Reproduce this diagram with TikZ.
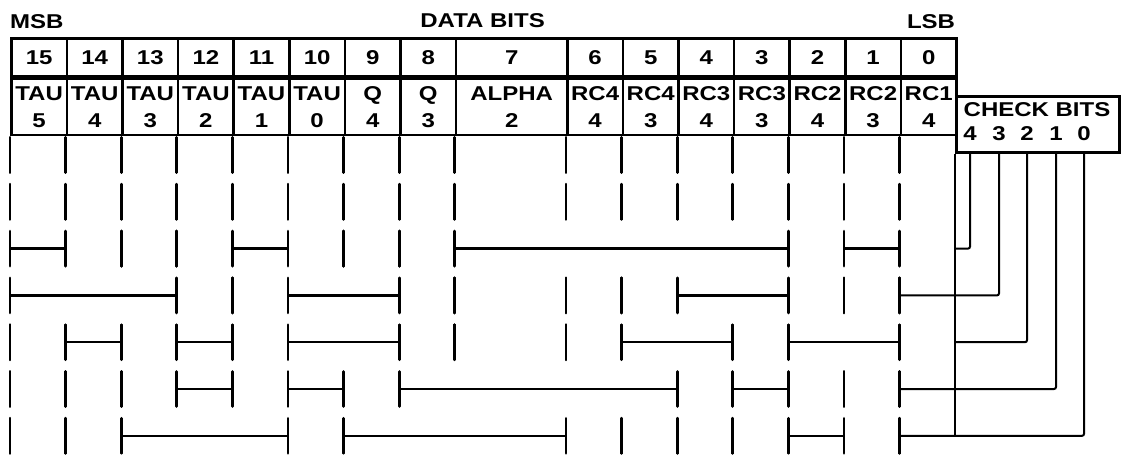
\documentclass[tikz,border=0pt]{standalone}
\usepackage{fontspec}
\setmainfont{Liberation Sans}[FakeStretch=1.2]

% one field of a row: ticks at both ends and a bar between them
\newcommand{\field}[3]{%
    \draw[tick] ([yshift=17.5pt]t#1-#2) -- ([yshift=-17.5pt]t#1-#2);
    \draw[tick] ([yshift=17.5pt]t#1-#3) -- ([yshift=-17.5pt]t#1-#3);
    \draw[bar] (t#1-#2) -- (t#1-#3);
}

\begin{document}
\begin{tikzpicture}[x=1pt, y=-1pt,
        tick/.style = {line width=2.8pt, line cap=round},
        bar/.style = {line width=2.4pt},
        wire/.style = {line width=2pt, rounded corners=2pt}]
            \useasboundingbox (0,0) rectangle (1121,456);
            {
                \tikzset{every node/.style = {inner sep=0pt, font=\fontsize{20}{27}\selectfont\bfseries}}
                \tikzset{cell/.style = {draw, line width=2.6pt, anchor=north west, align=center}}

                \node[anchor=west] (msb) at (10, 22) {MSB};
                \node (data) at (482.6, 21) {DATA BITS};
                \node[anchor=east] (lsb) at (955.2, 22) {LSB};

                \foreach \b/\u/\w/\nm/\sub in {15/0/1/TAU/5, 14/1/1/TAU/4, 13/2/1/TAU/3, 12/3/1/TAU/2,
                        11/4/1/TAU/1, 10/5/1/TAU/0, 9/6/1/Q/4, 8/7/1/Q/3, 7/8/2/ALPHA/2, 6/10/1/RC4/4,
                        5/11/1/RC4/3, 4/12/1/RC3/4, 3/13/1/RC3/3, 2/14/1/RC2/4, 1/15/1/RC2/3, 0/16/1/RC1/4}
                {
                    \node[cell, minimum width=\w*55.6pt, minimum height=38pt] (n\b) at ({10+\u*55.6}, 37) {\b};
                    \node[cell, minimum width=\w*55.6pt, minimum height=56pt] (l\b) at (n\b.south west) {\nm\\\sub};
                    \foreach \r in {1,...,7}
                        \coordinate (t\r-\b) at ({10+\u*55.6}, {155+(\r-1)*46.8});
                }

                \node[cell, minimum width=162.8pt, minimum height=56pt] (chk) at (955.2, 95) {};
                \node (chklbl) at (1037, 110) {CHECK BITS};
                \foreach \c/\x in {4/970, 3/999, 2/1027, 1/1056, 0/1084}
                    \node (c\c) at (\x, 134) {\c};
            }

            % rows of fields
            \foreach \r in {1,2}
                \foreach \b in {15,...,0}
                    {\field{\r}{\b}{\b}}
            \foreach \hi/\lo in {15/14, 13/13, 12/12, 11/10, 9/9, 8/8, 7/2, 1/0} {\field{3}{\hi}{\lo}}
            \foreach \hi/\lo in {15/12, 11/11, 10/8, 7/7, 6/6, 5/5, 4/2, 1/1, 0/0} {\field{4}{\hi}{\lo}}
            \foreach \hi/\lo in {15/15, 14/13, 12/11, 10/8, 7/7, 6/6, 5/3, 2/0} {\field{5}{\hi}{\lo}}
            \foreach \hi/\lo in {15/15, 14/14, 13/13, 12/11, 10/9, 8/4, 3/2, 1/1, 0/0} {\field{6}{\hi}{\lo}}
            \foreach \hi/\lo in {15/15, 14/14, 13/10, 9/6, 5/5, 4/4, 3/3, 2/1, 0/0} {\field{7}{\hi}{\lo}}

            % check bit wires
            \draw[wire] (chk.south west) -- (chk.west |- t7-0);
            \draw[wire] (c4 |- chk.south) |- (chk.west |- t3-0);
            \draw[wire] (c3 |- chk.south) |- (t4-0);
            \draw[wire] (c2 |- chk.south) |- (chk.west |- t5-0);
            \draw[wire] (c1 |- chk.south) |- (t6-0);
            \draw[wire] (c0 |- chk.south) |- (t7-0);

        \end{tikzpicture}
\end{document}
